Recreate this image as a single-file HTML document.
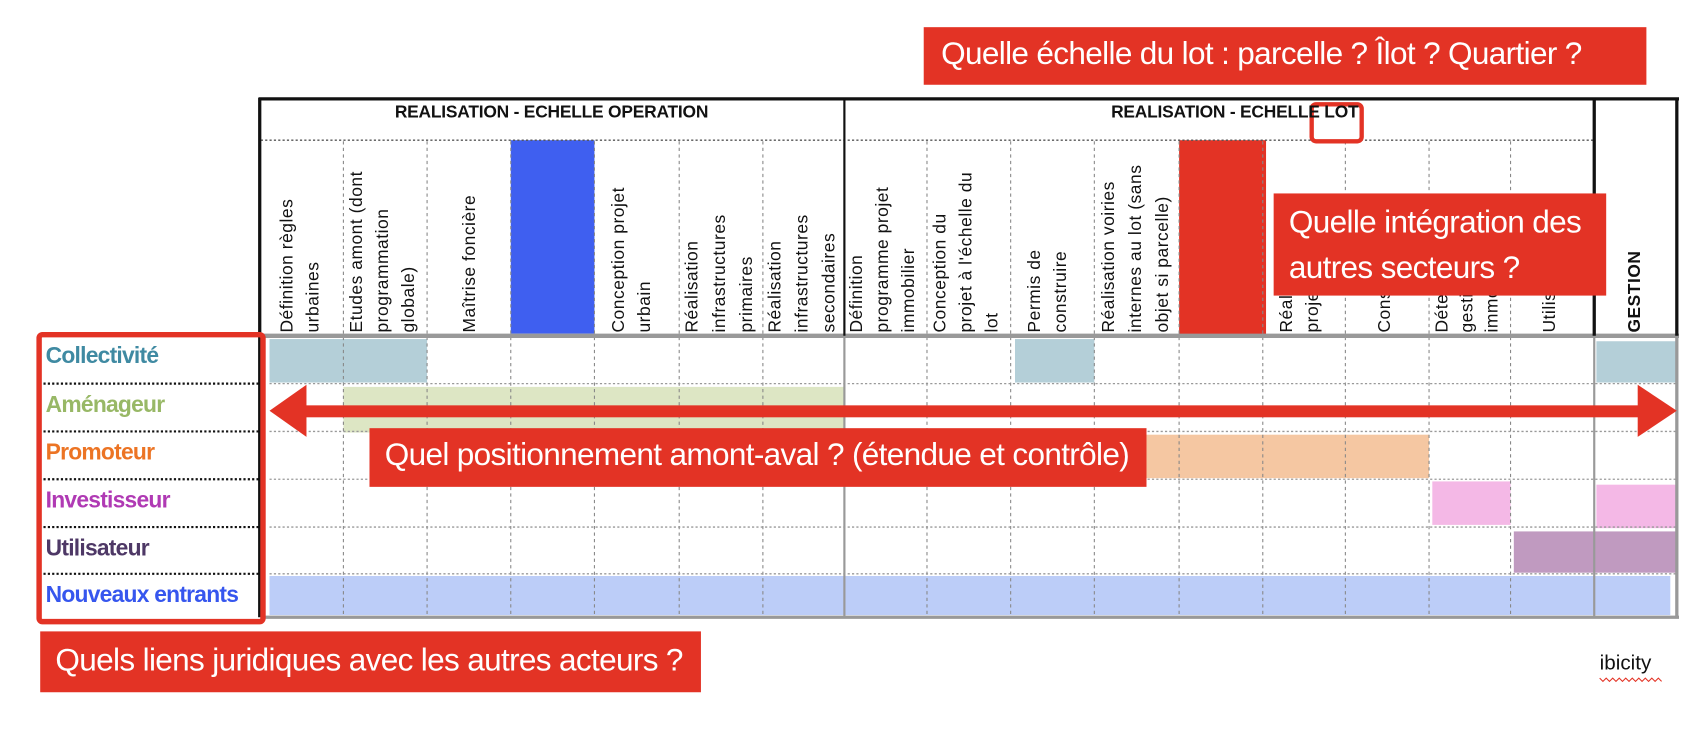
<!DOCTYPE html>
<html><head><meta charset="utf-8"><style>
html,body{margin:0;padding:0;background:#fff;width:1704px;height:734px;overflow:hidden}
#c{position:absolute;left:0;top:0;width:1568px;height:675px;transform:scale(1.08673);transform-origin:0 0;font-family:"Liberation Sans",Arial,sans-serif}
.a{position:absolute}
.rb{position:absolute;background:#e33325;color:#fff;font-family:"Liberation Sans",Arial,sans-serif;font-size:29px;letter-spacing:-0.6px;white-space:nowrap}
.ch{position:absolute;top:130px;height:176px;writing-mode:vertical-rl;transform:rotate(180deg);font-size:16px;letter-spacing:0.5px;line-height:24px;color:#111;white-space:nowrap;text-align:left;padding-right:1px}
.lab{position:absolute;left:42px;font-size:21px;font-weight:bold;letter-spacing:-0.7px}
.hd{position:absolute;top:95px;font-size:16px;font-weight:bold;color:#111;white-space:nowrap;letter-spacing:-0.2px}
</style></head><body><div id="c">
<svg class="a" style="left:0;top:0" width="1568" height="675">
<rect x="470" y="129" width="77" height="178" fill="#3f5ff0"/>
<rect x="1085" y="129" width="80" height="182" fill="#e33325"/>
<rect x="248" y="312" width="145" height="40" fill="#b4cfd8"/>
<rect x="934" y="312" width="73" height="40" fill="#b4cfd8"/>
<rect x="1469" y="314" width="74" height="38" fill="#b4cfd8"/>
<rect x="316" y="356" width="461" height="42" fill="#dde6c4"/>
<rect x="1050" y="400" width="265" height="40" fill="#f5c7a2"/>
<rect x="1318" y="443" width="72" height="40" fill="#f4b8e6"/>
<rect x="1469" y="446" width="74" height="40" fill="#f4b8e6"/>
<rect x="1393" y="489" width="150" height="38" fill="#c09ac0"/>
<rect x="248" y="530" width="1289" height="36" fill="#bccdf8"/>
<g stroke="#888" stroke-width="1" stroke-dasharray="3,3">
<line x1="316" y1="130" x2="316" y2="568"/><line x1="393" y1="130" x2="393" y2="568"/>
<line x1="470" y1="130" x2="470" y2="568"/><line x1="547" y1="130" x2="547" y2="568"/>
<line x1="625" y1="130" x2="625" y2="568"/><line x1="702" y1="130" x2="702" y2="568"/>
<line x1="853" y1="130" x2="853" y2="568"/><line x1="930" y1="130" x2="930" y2="568"/>
<line x1="1007" y1="130" x2="1007" y2="568"/><line x1="1085" y1="130" x2="1085" y2="568"/>
<line x1="1162" y1="130" x2="1162" y2="568"/><line x1="1238" y1="130" x2="1238" y2="568"/>
<line x1="1315" y1="130" x2="1315" y2="568"/><line x1="1390" y1="130" x2="1390" y2="568"/>
</g>
<g stroke="#999" stroke-width="1.2" stroke-dasharray="2,2">
<line x1="248" y1="353" x2="1543" y2="353"/><line x1="248" y1="397" x2="1543" y2="397"/>
<line x1="248" y1="441" x2="1543" y2="441"/><line x1="248" y1="485" x2="1543" y2="485"/>
<line x1="248" y1="528" x2="1543" y2="528"/>
<line x1="240" y1="129" x2="1467" y2="129" stroke="#555"/>
</g>
<g stroke="#111" stroke-width="2" stroke-dasharray="2,2">
<line x1="40" y1="353" x2="238" y2="353"/><line x1="40" y1="397" x2="238" y2="397"/>
<line x1="40" y1="441" x2="238" y2="441"/><line x1="40" y1="485" x2="238" y2="485"/>
<line x1="40" y1="528" x2="238" y2="528"/>
</g>
<line x1="238" y1="309" x2="1545" y2="309" stroke="#999" stroke-width="4"/>
<line x1="244" y1="568" x2="1545" y2="568" stroke="#999" stroke-width="3"/>
<line x1="1543" y1="309" x2="1543" y2="569" stroke="#999" stroke-width="3"/>
<line x1="777" y1="309" x2="777" y2="568" stroke="#999" stroke-width="2"/>
<line x1="1467" y1="309" x2="1467" y2="568" stroke="#999" stroke-width="2"/>
<line x1="238" y1="91" x2="1545" y2="91" stroke="#111" stroke-width="3"/>
<line x1="239" y1="90" x2="239" y2="568" stroke="#111" stroke-width="3"/>
<line x1="777" y1="90" x2="777" y2="309" stroke="#111" stroke-width="2"/>
<line x1="1467" y1="90" x2="1467" y2="309" stroke="#111" stroke-width="3"/>
<line x1="1543" y1="90" x2="1543" y2="309" stroke="#111" stroke-width="3"/>
<rect x="36" y="308" width="206" height="264" rx="3" fill="none" stroke="#e33325" stroke-width="5"/>
<rect x="1207" y="96" width="46" height="34" rx="4" fill="none" stroke="#e33325" stroke-width="4"/>
<rect x="275" y="373" width="1240" height="11" fill="#e33325"/>
<polygon points="248,378 282,354 282,402" fill="#e33325"/>
<polygon points="1543,378 1507,354 1507,402" fill="#e33325"/>
<polyline points="1472,624 1475,627 1478,624 1481,627 1484,624 1487,627 1490,624 1493,627 1496,624 1499,627 1502,624 1505,627 1508,624 1511,627 1514,624 1517,627 1520,624 1523,627 1526,624 1529,627" fill="none" stroke="#e33325" stroke-width="1"/>
</svg>

<div class="hd" style="left:238px;width:539px;text-align:center">REALISATION - ECHELLE OPERATION</div>
<div class="hd" style="left:950px;width:300px;text-align:right">REALISATION - ECHELLE LOT</div>

<div class="ch" style="left:252px">Définition règles<br>urbaines</div>
<div class="ch" style="left:316px">Etudes amont (dont<br>programmation<br>globale)</div>
<div class="ch" style="left:420px">Maîtrise foncière</div>
<div class="ch" style="left:557px">Conception projet<br>urbain</div>
<div class="ch" style="left:624px;line-height:25px">Réalisation<br>infrastructures<br>primaires</div>
<div class="ch" style="left:700px;line-height:25px">Réalisation<br>infrastructures<br>secondaires</div>
<div class="ch" style="left:776px;line-height:24px">Définition<br>programme projet<br>immobilier</div>
<div class="ch" style="left:853px;line-height:24px">Conception du<br>projet à l'échelle du<br>lot</div>
<div class="ch" style="left:940px">Permis de<br>construire</div>
<div class="ch" style="left:1007px;line-height:25px">Réalisation voiries<br>internes au lot (sans<br>objet si parcelle)</div>
<div class="ch" style="left:1172px">Réalisation<br>projet immobilier</div>
<div class="ch" style="left:1262px">Construction</div>
<div class="ch" style="left:1315px;line-height:23px">Détention<br>gestion<br>immobilier</div>
<div class="ch" style="left:1414px">Utilisation</div>
<div class="ch" style="left:1492px;font-weight:bold;font-size:16px">GESTION</div>

<div class="lab" style="top:316px;color:#3f8aa2">Collectivité</div>
<div class="lab" style="top:361px;color:#98b866">Aménageur</div>
<div class="lab" style="top:405px;color:#ec7424">Promoteur</div>
<div class="lab" style="top:449px;color:#b03ab4">Investisseur</div>
<div class="lab" style="top:493px;color:#4e3866">Utilisateur</div>
<div class="lab" style="top:536px;color:#3656ee">Nouveaux entrants</div>

<div class="rb" style="left:850px;top:25px;width:665px;height:53px"><div class="a" style="left:16px;top:9px">Quelle échelle du lot : parcelle ? Îlot ? Quartier ?</div></div>
<div class="rb" style="left:1172px;top:178px;width:306px;height:94px"><div class="a" style="left:14px;top:6px;line-height:42px">Quelle intégration des<br>autres secteurs ?</div></div>
<div class="rb" style="left:340px;top:394px;width:715px;height:54px"><div class="a" style="left:14px;top:9px">Quel positionnement amont-aval ? (étendue et contrôle)</div></div>
<div class="rb" style="left:37px;top:581px;width:608px;height:56px"><div class="a" style="left:14px;top:11px">Quels liens juridiques avec les autres acteurs ?</div></div>
<div class="a" style="left:1472px;top:600px;font-size:19px;color:#111">ibicity</div>
</div></body></html>
